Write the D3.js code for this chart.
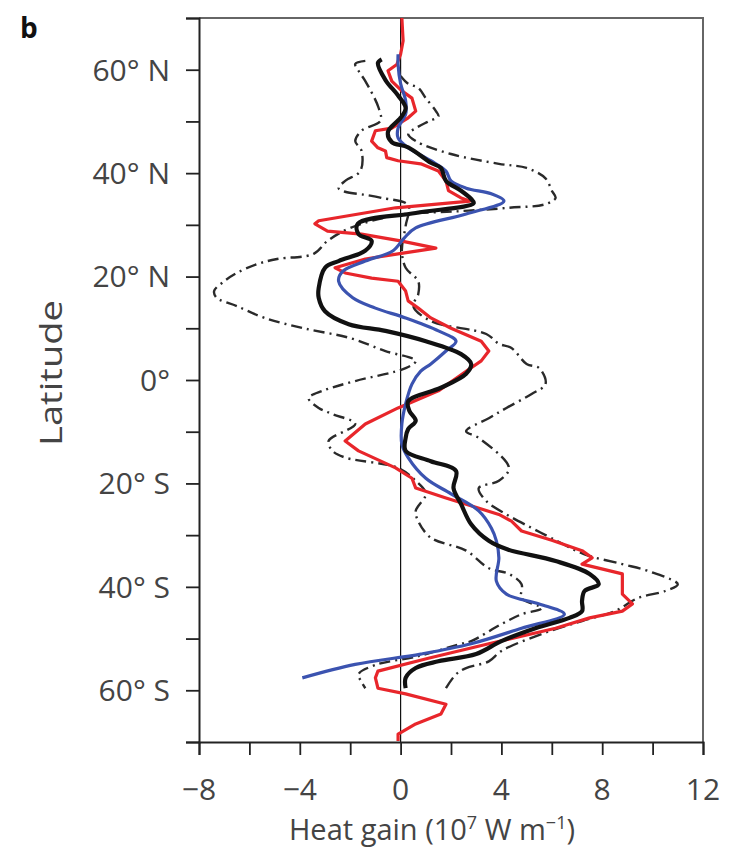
<!DOCTYPE html>
<head>
  <meta charset="utf-8">
  <script src="https://d3js.org/d3.v7.min.js"></script>
  <style>
    body { margin:0; background:#fff; }
    text { font-family: "Open Sans", sans-serif; fill:#444; }
  </style>
</head>
<body>
<script>
// tick values / labels
var xTicks = [-8, -6, -4, -2, 0, 2, 4, 6, 8, 10, 12];
var xLabels = [-8, -4, 0, 4, 8, 12];
var yTicks = [70, 60, 50, 40, 30, 20, 10, 0, -10, -20, -30, -40, -50, -60, -70];
var yLabelVals = [60, 40, 20, 0, -20, -40, -60];
var yLabelText = ["60° N", "40° N", "20° N", "0°", "20° S", "40° S", "60° S"];

// thick black curve
var blackLat = [62, 61.3, 58, 55, 52.6, 50.7, 48, 46, 45, 42, 41, 38.5, 36.6, 35, 34.2, 32.3, 30.2, 28.2, 26.9, 25, 23, 21.7, 17.8, 15.9, 13.3, 10.8, 9.5, 7.5, 5.0, 3.1, 1.2, -1.5, -4.1, -6, -7.9, -9.5, -11.2, -13.7, -15.7, -17.6, -20.9, -24, -27.9, -31.1, -32.7, -35, -37.5, -39.5, -40.8, -42.7, -44.7, -46, -48, -50.5, -53, -54.4, -55.7, -57.6, -59.6];
var blackVal = [-0.75, -0.9, -0.6, -0.1, 0.2, 0, -0.5, -0.35, 0.3, 1.2, 1.6, 1.8, 2.4, 2.8, 2.9, 0.6, -1.7, -1.67, -1.15, -1.4, -2.46, -3.0, -3.25, -3.25, -3.0, -2.06, -0.6, 1.0, 2.4, 2.8, 2.6, 1.6, 0.3, 0.35, 0.6, 0.3, 0.2, 0.2, 1.2, 2.2, 2.1, 2.4, 2.8, 3.5, 4.2, 6.15, 7.5, 7.86, 7.3, 7.2, 7.2, 6.7, 5.35, 4.0, 3.0, 1.5, 0.6, 0.2, 0.2];

// red curve
var redLat = [70, 65.6, 63, 61, 59.8, 57.8, 55.9, 54.5, 52, 50.7, 48.7, 48.2, 46.2, 44.9, 44.3, 43, 42.4, 41.8, 40.4, 38.5, 36.6, 35.2, 34.6, 33.3, 30.8, 30.2, 28.8, 28.2, 26.9, 25.5, 24.4, 23.4, 21.7, 20.7, 19.7, 19.1, 17.2, 15.3, 13.9, 12, 10, 7.5, 5.6, 3.7, 1.7, -2.1, -5.4, -8.5, -11.8, -13.7, -17, -19, -20.9, -22.8, -26, -27.3, -29.2, -31, -33, -34.4, -35.6, -37.5, -41.4, -43.3, -44.7, -46, -48, -51, -53.8, -56.3, -57.6, -59.6, -60.7, -62.7, -64.6, -66.5, -68.5, -69.8];
var redVal = [0.05, 0.1, 0, -0.15, -0.5, -0.35, 0.05, 0.45, 0.6, 0.3, -0.35, -1.0, -1.15, -0.9, -0.6, -0.55, -0.1, 0.8, 1.5, 1.8, 1.9, 2.4, 2.75, -0.2, -3.25, -3.4, -2.9, -1.55, 0, 1.4, -0.1, -1.4, -2.6, -2.2, -1.15, -0.1, 0.2, 0.3, 0.7, 1.2, 2.0, 3.2, 3.5, 3.2, 2.6, 1.5, -0.1, -1.4, -2.2, -1.67, -0.2, 0.45, 0.6, 1.8, 3.9, 4.4, 4.8, 6.0, 7.2, 7.6, 7.2, 8.8, 8.8, 9.2, 8.8, 7.5, 6.15, 3.5, 1.1, -0.9, -1.0, -0.9, 0.2, 1.8, 1.6, 0.6, -0.1, -0.1];

// blue curve
var blueLat = [63, 61, 57.3, 54, 51.4, 48.7, 46.8, 44.9, 42.4, 40.4, 38.5, 37.1, 36, 34.6, 32.1, 29.4, 27.5, 25, 23, 21, 19.1, 15.9, 13.9, 12, 9.5, 7.5, 5.6, 3.1, 1.7, -0.8, -4.6, -8.5, -12.4, -15, -19, -22, -25.3, -28.6, -31.1, -34.4, -38.9, -41.4, -43.3, -45.3, -48, -51, -53, -55, -57.6];
var blueVal = [-0.1, -0.1, 0, 0.2, 0.2, -0.1, -0.1, 0.3, 1.2, 1.8, 2.0, 2.6, 3.6, 4.1, 2.6, 0.6, 0.15, -0.3, -1.4, -2.3, -2.46, -1.9, -1.0, 0.2, 1.5, 2.2, 1.8, 1.2, 0.8, 0.45, 0.2, 0.05, 0.05, 0.3, 1.0, 2.0, 3.1, 3.6, 3.8, 3.9, 3.8, 4.2, 5.5, 6.5, 4.8, 2.8, 0.8, -1.8, -3.9];

// dash-dot curve A (starts at top right)
var dashALat = [58.8, 57.3, 56.5, 54.5, 52, 51, 50, 48.7, 47.6, 46.2, 43.7, 41.8, 41, 39, 36.6, 35.2, 34, 33.3, 32.6, 31.9, 29.4, 26.9, 24.4, 23.4, 22.4, 20.7, 19.1, 17.2, 15.9, 14.3, 12, 10, 8.1, 5.6, 3.7, 2.3, -0.2, -2.1, -3.5, -5.4, -6.6, -8.5, -11.8, -13.7, -15, -17, -19.5, -22, -25.3, -27.3, -30.5, -33, -36.4, -37.5, -39.5, -42.2, -44.1, -45.3, -47.2, -50.5, -51, -53.4, -55.1, -56.9, -58.4, -59.6];
var dashAVal = [0, 0.3, 0.7, 1.0, 1.4, 1.5, 1.1, 0.6, 0.3, 0.6, 2.0, 3.9, 5.0, 5.75, 6.0, 6.15, 5.75, 4.3, 2.2, -0.1, -2.0, -2.9, -3.45, -4.9, -5.7, -6.5, -7.0, -7.4, -7.3, -6.5, -5.4, -3.85, -2.0, -0.6, 0.6, 0.2, -1.8, -3.1, -3.65, -3.25, -2.7, -1.8, -2.86, -2.7, -2.2, -0.1, 0.6, 1.0, 0.6, 0.7, 1.2, 2.6, 3.5, 4.3, 4.8, 4.8, 5.6, 4.8, 4.0, 2.8, 2.4, 0.7, -1.0, -1.67, -1.55, -1.4];

// dash-dot curve B (starts at top left)
var dashBLat = [61.7, 61.1, 59.8, 57.8, 52.6, 50.1, 48.2, 46.2, 44.3, 40.4, 38.5, 37.1, 36.4, 35.8, 35.2, 33.8, 29.8, 25, 21.7, 19.1, 16.6, 14.3, 11.4, 8.9, 7, 6.2, 3.1, 2.3, -0.8, -2.7, -5.4, -7.4, -9.9, -11.2, -17, -19.5, -20.9, -23.4, -26, -28.6, -30.6, -33.7, -35.6, -36.9, -39.5, -40.8, -42.2, -44.7, -46.6, -49.1, -52.4, -54.4, -55.7, -56.9, -59.6];
var dashBVal = [-1.4, -1.8, -1.67, -1.4, -0.87, -0.8, -1.55, -1.8, -1.55, -1.6, -2.2, -2.46, -2.2, -1.4, -0.75, 0.3, 0.2, 0.05, 0.2, 0.7, 0.7, 0.5, 1.2, 3.4, 3.9, 4.4, 5.0, 5.5, 5.75, 5.2, 4.2, 3.5, 2.6, 3.1, 4.3, 3.9, 3.1, 3.4, 4.2, 5.2, 6.0, 7.3, 8.8, 9.8, 11.0, 10.5, 9.4, 8.5, 7.2, 5.6, 4.0, 3.5, 2.6, 2.2, 1.8];

var width = 730, height = 853;
var plotL = 199, plotR = 703, plotT = 18, plotB = 742;

var svg = d3.select("body").append("svg")
  .attr("width", width)
  .attr("height", height);

var x = d3.scaleLinear().domain([-8, 12]).range([plotL, plotR]);
var y = d3.scaleLinear().domain([70, -70]).range([plotT, plotB]);

// frame top + right
svg.append("path")
  .attr("d", "M" + plotL + "," + plotT + "H" + plotR + "V" + plotB)
  .attr("fill", "none").attr("stroke", "#666").attr("stroke-width", 2);

// zero line
svg.append("line")
  .attr("x1", x(0)).attr("x2", x(0)).attr("y1", plotT).attr("y2", plotB)
  .attr("stroke", "#111").attr("stroke-width", 1.2);

function zip(lat, val) {
  return lat.map(function(l, i) { return {lat: l, v: val[i]}; });
}

var smooth = d3.line().x(function(d) { return x(d.v); }).y(function(d) { return y(d.lat); })
  .curve(d3.curveCatmullRom.alpha(0.5));
var sharp = d3.line().x(function(d) { return x(d.v); }).y(function(d) { return y(d.lat); });

var series = [
  {data: zip(dashALat, dashAVal), color: "#2a2a2a", w: 2.4, dash: "11,5,2,5", gen: smooth},
  {data: zip(dashBLat, dashBVal), color: "#2a2a2a", w: 2.4, dash: "13,5,2,5", gen: smooth},
  {data: zip(redLat, redVal), color: "#e8262b", w: 3.2, dash: null, gen: sharp},
  {data: zip(blueLat, blueVal), color: "#3b53b0", w: 3.2, dash: null, gen: smooth},
  {data: zip(blackLat, blackVal), color: "#111", w: 4.2, dash: null, gen: smooth}
];

svg.selectAll("path.series").data(series).enter().append("path")
  .classed("series", true)
  .attr("d", function(d) { return d.gen(d.data); })
  .attr("fill", "none")
  .attr("stroke", function(d) { return d.color; })
  .attr("stroke-width", function(d) { return d.w; })
  .attr("stroke-dasharray", function(d) { return d.dash; })
  .attr("stroke-linejoin", "round");

// y axis
var yAxis = svg.append("g").attr("transform", "translate(" + plotL + ",0)")
  .call(d3.axisLeft(y).tickValues(yTicks).tickSize(13).tickFormat(""));
yAxis.select(".domain").attr("stroke", "#222").attr("stroke-width", 2);
yAxis.selectAll(".tick line").attr("stroke", "#222").attr("stroke-width", 1.8);

svg.selectAll("text.ylab").data(yLabelVals).enter().append("text")
  .attr("x", 170).attr("y", function(d) { return y(d); })
  .attr("dy", "0.36em").attr("text-anchor", "end")
  .style("font-size", "30px")
  .text(function(d, i) { return yLabelText[i]; });

// x axis
var xAxis = svg.append("g").attr("transform", "translate(0," + plotB + ")")
  .call(d3.axisBottom(x).tickValues(xTicks).tickSize(13).tickFormat(""));
xAxis.select(".domain").attr("stroke", "#222").attr("stroke-width", 2);
xAxis.selectAll(".tick line").attr("stroke", "#222").attr("stroke-width", 1.8);

svg.selectAll("text.xlab").data(xLabels).enter().append("text")
  .attr("x", function(d) { return x(d); }).attr("y", 800)
  .attr("text-anchor", "middle")
  .style("font-size", "30px")
  .text(function(d) { return d < 0 ? "\u2212" + Math.abs(d) : d; });

// axis titles
var xt = svg.append("text").attr("x", 432).attr("y", 840).attr("text-anchor", "middle")
  .style("font-size", "29px");
xt.append("tspan").text("Heat gain (10");
xt.append("tspan").attr("dy", -11).style("font-size", "18px").text("7");
xt.append("tspan").attr("dy", 11).text(" W m");
xt.append("tspan").attr("dy", -11).style("font-size", "18px").text("\u22121");
xt.append("tspan").attr("dy", 11).text(")");

svg.append("text")
  .attr("transform", "translate(62,373) rotate(-90)")
  .attr("text-anchor", "middle")
  .style("font-size", "31px")
  .attr("textLength", 146).attr("lengthAdjust", "spacingAndGlyphs")
  .text("Latitude");

svg.append("text").attr("x", 20).attr("y", 38)
  .style("font-size", "28px").style("font-weight", "bold").style("fill", "#111")
  .text("b");
</script>
</body>
</html>
